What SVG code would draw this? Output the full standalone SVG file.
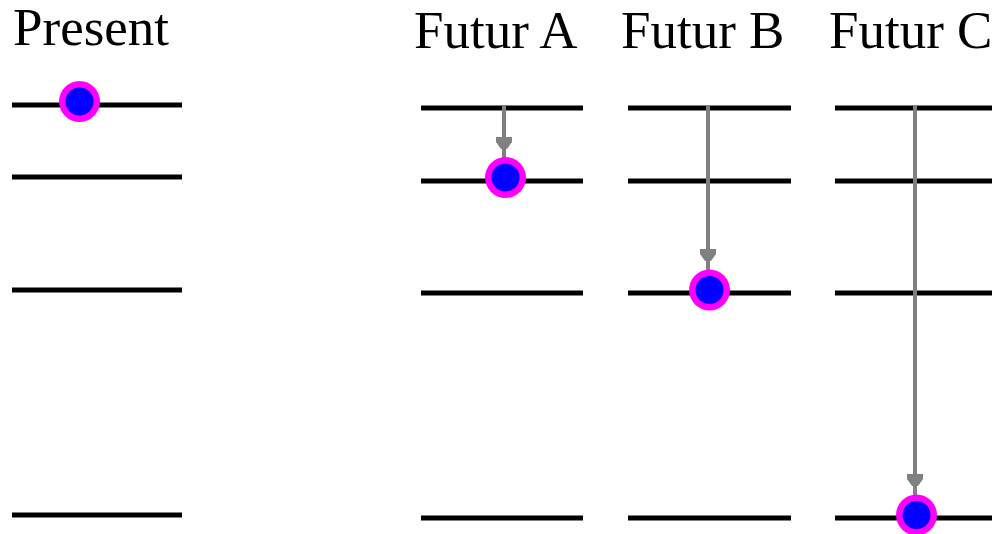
<svg xmlns="http://www.w3.org/2000/svg" width="992" height="534" viewBox="0 0 992 534">
<style>
.lvl{stroke:#000;stroke-width:5;fill:none}
.lbl{font-family:"Liberation Serif","Times New Roman",serif;font-size:53px;fill:#000}
.conn{stroke:#808080;stroke-width:4;fill:none}
.head{fill:#808080}
.halo{fill:#ff00ff}
.core{fill:#0000ff}
</style>
<defs>
<g id="dot"><circle r="20.5" class="halo"/><circle r="14" class="core"/></g>
<path id="ah" d="M-8,0 L8,0 L8,5 L3,12 L-3,12 L-8,5 Z" class="head"/>
</defs>
<rect width="992" height="534" fill="#fff"/>
<g id="present">
<text class="lbl" x="13" y="45">Present</text>
<line class="lvl" x1="12" y1="105" x2="182" y2="105"/>
<line class="lvl" x1="12" y1="177" x2="182" y2="177"/>
<line class="lvl" x1="12" y1="290" x2="182" y2="290"/>
<line class="lvl" x1="12" y1="515" x2="182" y2="515"/>
</g>
<g id="futurA">
<text class="lbl" x="414" y="48">Futur A</text>
<line class="lvl" x1="421" y1="108" x2="583" y2="108"/>
<line class="lvl" x1="421" y1="181" x2="583" y2="181"/>
<line class="lvl" x1="421" y1="293" x2="583" y2="293"/>
<line class="lvl" x1="421" y1="518" x2="583" y2="518"/>
</g>
<g id="futurB">
<text class="lbl" x="621" y="48">Futur B</text>
<line class="lvl" x1="628" y1="108" x2="791" y2="108"/>
<line class="lvl" x1="628" y1="181" x2="791" y2="181"/>
<line class="lvl" x1="628" y1="293" x2="791" y2="293"/>
<line class="lvl" x1="628" y1="518" x2="791" y2="518"/>
</g>
<g id="futurC">
<text class="lbl" x="829" y="48">Futur C</text>
<line class="lvl" x1="835" y1="108" x2="992" y2="108"/>
<line class="lvl" x1="835" y1="181" x2="992" y2="181"/>
<line class="lvl" x1="835" y1="293" x2="992" y2="293"/>
<line class="lvl" x1="835" y1="518" x2="992" y2="518"/>
</g>
<g id="connectors">
<line class="conn" x1="504" y1="106" x2="504" y2="160"/>
<use href="#ah" x="504" y="137"/>
<line class="conn" x1="708" y1="106" x2="708" y2="272"/>
<use href="#ah" x="708" y="249"/>
<line class="conn" x1="915" y1="106" x2="915" y2="497"/>
<use href="#ah" x="915" y="474"/>
</g>
<g id="particle-present"><use href="#dot" x="79.5" y="101.5"/></g>
<g id="particle-A"><use href="#dot" x="505.5" y="177.5"/></g>
<g id="particle-B"><use href="#dot" x="709.5" y="290"/></g>
<g id="particle-C"><use href="#dot" x="916.5" y="515"/></g>
</svg>
